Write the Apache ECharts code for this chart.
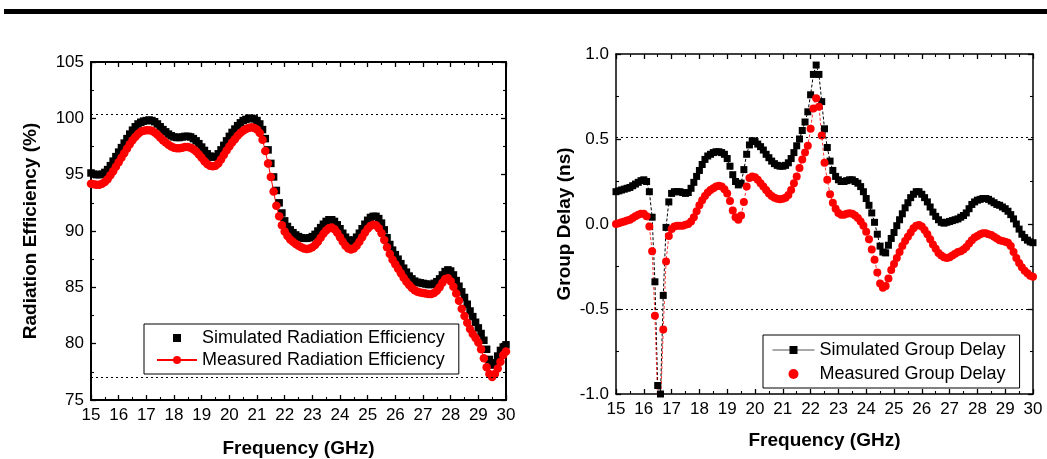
<!DOCTYPE html>
<html>
<head>
<meta charset="utf-8">
<script src="https://cdn.jsdelivr.net/npm/echarts@6/dist/echarts.min.js"></script>
<style>
html,body{margin:0;padding:0;background:#fff;}
#c{width:1047px;height:459px;}
</style>
</head>
<body>
<div id="c"></div>
<script>
// ---- data (frequency grid 15.0 .. 30.0 GHz, step 0.1) ----
const FREQ = Array.from({length: 151}, (_, i) => +(15 + i * 0.1).toFixed(1));
const X_MIN = 15, X_MAX = 30;

const SIM_EFF = [
  95.15, 95.05, 95.0, 95.0, 95.05, 95.2, 95.45, 95.8, 96.2, 96.6,
  97.0, 97.4, 97.8, 98.2, 98.6, 98.95, 99.25, 99.5, 99.65, 99.75,
  99.8, 99.85, 99.8, 99.7, 99.5, 99.25, 99.0, 98.8, 98.6, 98.45,
  98.35, 98.3, 98.3, 98.35, 98.4, 98.4, 98.35, 98.2, 98.0, 97.75,
  97.45, 97.15, 96.85, 96.65, 96.55, 96.6, 96.85, 97.2, 97.6, 98.0,
  98.4, 98.75, 99.05, 99.35, 99.6, 99.8, 99.9, 100.0, 100.0, 99.95,
  99.8, 99.5, 99.0, 98.2, 97.2, 96.0, 94.8, 93.6, 92.5, 91.6,
  90.9, 90.4, 90.1, 89.85, 89.65, 89.5, 89.4, 89.35, 89.35, 89.4,
  89.5, 89.7, 90.0, 90.3, 90.6, 90.85, 91.0, 91.0, 90.85, 90.55,
  90.2, 89.8, 89.45, 89.2, 89.1, 89.2, 89.45, 89.8, 90.2, 90.6,
  90.95, 91.2, 91.3, 91.3, 91.1, 90.7, 90.1, 89.4, 88.8, 88.3,
  87.9, 87.5, 87.1, 86.7, 86.35, 86.0, 85.75, 85.55, 85.45, 85.4,
  85.35, 85.3, 85.25, 85.25, 85.35, 85.5, 85.75, 86.1, 86.4, 86.55,
  86.45, 86.1, 85.6, 85.1, 84.6, 84.1, 83.5, 82.9, 82.4, 81.9,
  81.4, 80.9, 80.3, 79.5, 78.6, 78.1, 78.3, 78.9, 79.4, 79.7,
  79.9
];
const MEAS_EFF = [
  94.2, 94.15, 94.1, 94.1, 94.2, 94.35, 94.6, 94.95, 95.3, 95.7,
  96.1, 96.5, 96.9, 97.3, 97.7, 98.05, 98.35, 98.6, 98.8, 98.9,
  98.95, 98.95, 98.9, 98.75, 98.55, 98.3, 98.05, 97.85, 97.65, 97.5,
  97.4, 97.35, 97.35, 97.4, 97.45, 97.45, 97.4, 97.25, 97.05, 96.8,
  96.5, 96.2, 95.95, 95.8, 95.75, 95.8, 96.0, 96.35, 96.75, 97.15,
  97.5, 97.85, 98.15, 98.45, 98.7, 98.9, 99.05, 99.15, 99.2, 99.15,
  99.0, 98.7, 98.1, 97.1, 96.0, 94.8, 93.5, 92.25, 91.3, 90.5,
  89.95, 89.55, 89.25, 89.05, 88.85, 88.7, 88.55, 88.45, 88.4, 88.45,
  88.55, 88.75, 89.05, 89.4, 89.75, 90.05, 90.25, 90.3, 90.15, 89.85,
  89.45, 89.05, 88.7, 88.45, 88.35, 88.45, 88.7, 89.05, 89.45, 89.85,
  90.2, 90.45, 90.55, 90.5, 90.25, 89.8, 89.2, 88.55, 87.95, 87.45,
  87.05, 86.65, 86.25, 85.85, 85.5, 85.2, 84.95, 84.75, 84.6, 84.55,
  84.5, 84.45, 84.4, 84.4, 84.5, 84.7, 85.0, 85.4, 85.75, 85.8,
  85.55, 85.05, 84.45, 83.8, 83.1, 82.45, 81.85, 81.3, 80.85, 80.5,
  80.1, 79.5, 78.7, 77.9, 77.3, 77.05, 77.3, 77.8, 78.4, 79.0,
  79.3
];
const SIM_GD = [
  0.19, 0.195, 0.2, 0.205, 0.21, 0.215, 0.225, 0.235, 0.245, 0.255,
  0.26, 0.25, 0.19, 0.04, -0.34, -0.95, -1.0, -0.42, -0.02, 0.13,
  0.18, 0.19, 0.19, 0.19, 0.185, 0.18, 0.185, 0.21, 0.245, 0.28,
  0.315, 0.35, 0.38, 0.4, 0.41, 0.42, 0.425, 0.425, 0.42, 0.41,
  0.385, 0.34, 0.29, 0.25, 0.23, 0.24, 0.32, 0.41, 0.465, 0.49,
  0.485, 0.47, 0.455, 0.435, 0.41, 0.39, 0.37, 0.355, 0.345, 0.34,
  0.34, 0.345, 0.36, 0.385, 0.42, 0.46, 0.5, 0.55, 0.6, 0.66,
  0.76, 0.88, 0.935, 0.88, 0.72, 0.56, 0.45, 0.37, 0.315, 0.28,
  0.26, 0.25, 0.25, 0.255, 0.26, 0.26, 0.25, 0.24, 0.22, 0.19,
  0.15, 0.11, 0.065, 0.01, -0.06, -0.13, -0.165, -0.17, -0.125, -0.085,
  -0.05, -0.01, 0.025, 0.06, 0.095, 0.125, 0.155, 0.175, 0.19, 0.19,
  0.175, 0.155, 0.13, 0.1, 0.07, 0.045, 0.025, 0.01, 0.005, 0.01,
  0.015, 0.02, 0.025, 0.03, 0.04, 0.05, 0.065, 0.09, 0.115, 0.13,
  0.14, 0.145, 0.15, 0.15, 0.145, 0.135, 0.125, 0.115, 0.11, 0.1,
  0.09, 0.075, 0.055, 0.03, 0.0, -0.03, -0.06, -0.08, -0.095, -0.105,
  -0.11
];
const MEAS_GD = [
  0.0, 0.005, 0.01, 0.015, 0.02, 0.025, 0.035, 0.045, 0.055, 0.06,
  0.06, 0.045, -0.015, -0.16, -0.54, -1.05, -1.08, -0.62, -0.22, -0.07,
  -0.03, -0.015, -0.01, -0.01, -0.01, -0.005, 0.0, 0.015, 0.04, 0.075,
  0.11, 0.14, 0.165, 0.185, 0.2, 0.21, 0.22, 0.225, 0.22, 0.205,
  0.18, 0.135, 0.08, 0.04, 0.025, 0.05, 0.13, 0.22, 0.27, 0.28,
  0.275, 0.26, 0.24, 0.22, 0.2, 0.18, 0.165, 0.155, 0.148, 0.145,
  0.148, 0.155, 0.17, 0.2, 0.24, 0.28, 0.33, 0.38, 0.42, 0.46,
  0.56, 0.68, 0.74, 0.69, 0.52, 0.36, 0.26, 0.175, 0.125, 0.09,
  0.065, 0.055, 0.055, 0.06, 0.063, 0.06, 0.05, 0.035, 0.015, -0.01,
  -0.045, -0.09, -0.15, -0.21, -0.285, -0.35, -0.375, -0.365, -0.32, -0.27,
  -0.235, -0.2, -0.165, -0.13, -0.1, -0.075, -0.05, -0.025, -0.01, -0.006,
  -0.015, -0.035, -0.06, -0.09, -0.12, -0.145, -0.17, -0.185, -0.195, -0.2,
  -0.195, -0.185, -0.175, -0.165, -0.16, -0.15, -0.135, -0.115, -0.095, -0.08,
  -0.07, -0.06, -0.055, -0.055, -0.06, -0.065, -0.075, -0.085, -0.095, -0.1,
  -0.105, -0.11, -0.13, -0.165, -0.2, -0.23, -0.255, -0.275, -0.29, -0.305,
  -0.31
];
const EFF_REF_LINES = [100.4, 77.0];
const GD_REF_LINES = [0.51, -0.5];

const NAMES = {
  simEff: 'Simulated Radiation Efficiency',
  measEff: 'Measured Radiation Efficiency',
  simGd: 'Simulated Group Delay',
  measGd: 'Measured Group Delay'
};

// ---- chart ----
const SANS = '"Liberation Sans", Arial, sans-serif';
const pairs = (ys) => FREQ.map((x, i) => [x, ys[i]]);

function axisCommon(lineW) {
  return {
    axisLine: {show: true, onZero: false, lineStyle: {color: '#000', width: lineW}},
    axisTick: {show: true, inside: true, length: 5, lineStyle: {color: '#000', width: 1.3}},
    minorTick: {show: true, inside: true, splitNumber: 2, length: 3, lineStyle: {color: '#000', width: 1.1}},
    splitLine: {show: false},
    minorSplitLine: {show: false}
  };
}
function xAxis(grid, pos, showLabel, name, nameGap, lineW) {
  return Object.assign(axisCommon(lineW), {
    type: 'value', gridIndex: grid, position: pos, min: X_MIN, max: X_MAX, interval: 1,
    axisLabel: {show: showLabel, color: '#000', fontFamily: SANS, fontSize: 17, margin: 7},
    name: showLabel ? name : '', nameLocation: 'middle', nameGap: nameGap,
    nameTextStyle: {color: '#000', fontFamily: SANS, fontWeight: 'bold', fontSize: 19}
  });
}
function yAxis(grid, pos, showLabel, min, max, interval, fmt, name, nameGap, lineW) {
  return Object.assign(axisCommon(lineW), {
    type: 'value', gridIndex: grid, position: pos, min: min, max: max, interval: interval,
    axisLabel: {show: showLabel, color: '#000', fontFamily: SANS, fontSize: 17, margin: 7, formatter: fmt},
    name: showLabel ? name : '', nameLocation: 'middle', nameGap: nameGap, nameRotate: 90,
    nameTextStyle: {color: '#000', fontFamily: SANS, fontWeight: 'bold', fontSize: 19}
  });
}
function refLines(vals) {
  return {
    silent: true, symbol: 'none', animation: false,
    label: {show: false},
    lineStyle: {type: [2, 3], color: '#000', width: 1},
    emphasis: {disabled: true},
    data: vals.map(v => ({yAxis: v}))
  };
}

const chart = echarts.init(document.getElementById('c'), null, {renderer: 'canvas'});
chart.setOption({
  animation: false,
  backgroundColor: '#ffffff',
  graphic: [{type: 'rect', left: 4, top: 9, shape: {width: 1043, height: 5}, style: {fill: '#000'}, silent: true}],
  grid: [
    {left: 91, top: 62, width: 415, height: 338, outerBoundsMode: 'none', containLabel: false},
    {left: 616, top: 54, width: 417, height: 340, outerBoundsMode: 'none', containLabel: false}
  ],
  xAxis: [
    xAxis(0, 'bottom', true, 'Frequency (GHz)', 39, 2),
    xAxis(0, 'top', false, '', 0, 2),
    xAxis(1, 'bottom', true, 'Frequency (GHz)', 37, 1.5),
    xAxis(1, 'top', false, '', 0, 1.5)
  ],
  yAxis: [
    yAxis(0, 'left', true, 75, 105, 5, v => String(v), 'Radiation Efficiency (%)', 51, 2),
    yAxis(0, 'right', false, 75, 105, 5, null, '', 0, 2),
    yAxis(1, 'left', true, -1, 1, 0.5, v => v.toFixed(1), 'Group Delay (ns)', 42, 1.5),
    yAxis(1, 'right', false, -1, 1, 0.5, null, '', 0, 1.5)
  ],
  legend: [
    {
      data: [NAMES.simEff, NAMES.measEff],
      orient: 'vertical', left: 144, top: 324,
      itemWidth: 40, itemHeight: 10, itemGap: 4,
      padding: [5, 14, 5, 12],
      borderColor: '#000', borderWidth: 1, backgroundColor: '#fff',
      textStyle: {color: '#000', fontFamily: SANS, fontSize: 18},
      lineStyle: {type: 'solid'},
      selectedMode: false
    },
    {
      data: [NAMES.simGd, {name: NAMES.measGd, icon: 'circle'}],
      orient: 'vertical', left: 763, top: 335,
      itemWidth: 42, itemHeight: 10, itemGap: 6,
      padding: [6, 14, 5, 9],
      borderColor: '#000', borderWidth: 1, backgroundColor: '#fff',
      textStyle: {color: '#000', fontFamily: SANS, fontSize: 18},
      lineStyle: {type: 'solid', color: '#555', width: 1},
      selectedMode: false
    }
  ],
  series: [
    {
      name: NAMES.simEff, type: 'line', xAxisIndex: 0, yAxisIndex: 0,
      data: pairs(SIM_EFF), symbol: 'rect', symbolSize: 7.5,
      itemStyle: {color: '#000'}, lineStyle: {width: 0, color: '#000'},
      markLine: refLines(EFF_REF_LINES)
    },
    {
      name: NAMES.measEff, type: 'line', xAxisIndex: 0, yAxisIndex: 0,
      data: pairs(MEAS_EFF), symbol: 'circle', symbolSize: 8.5,
      itemStyle: {color: '#ff0000'}, lineStyle: {width: 1, color: '#ff0000'}
    },
    {
      name: NAMES.simGd, type: 'line', xAxisIndex: 2, yAxisIndex: 2,
      data: pairs(SIM_GD), symbol: 'rect', symbolSize: 7,
      itemStyle: {color: '#000'}, lineStyle: {width: 1, color: '#000', type: [3, 2]},
      markLine: refLines(GD_REF_LINES)
    },
    {
      name: NAMES.measGd, type: 'line', xAxisIndex: 2, yAxisIndex: 2,
      data: pairs(MEAS_GD), symbol: 'circle', symbolSize: 8,
      itemStyle: {color: '#ff0000'}, lineStyle: {width: 0.8, color: '#ff0000', type: [3, 2]}
    }
  ]
});
</script>
</body>
</html>
